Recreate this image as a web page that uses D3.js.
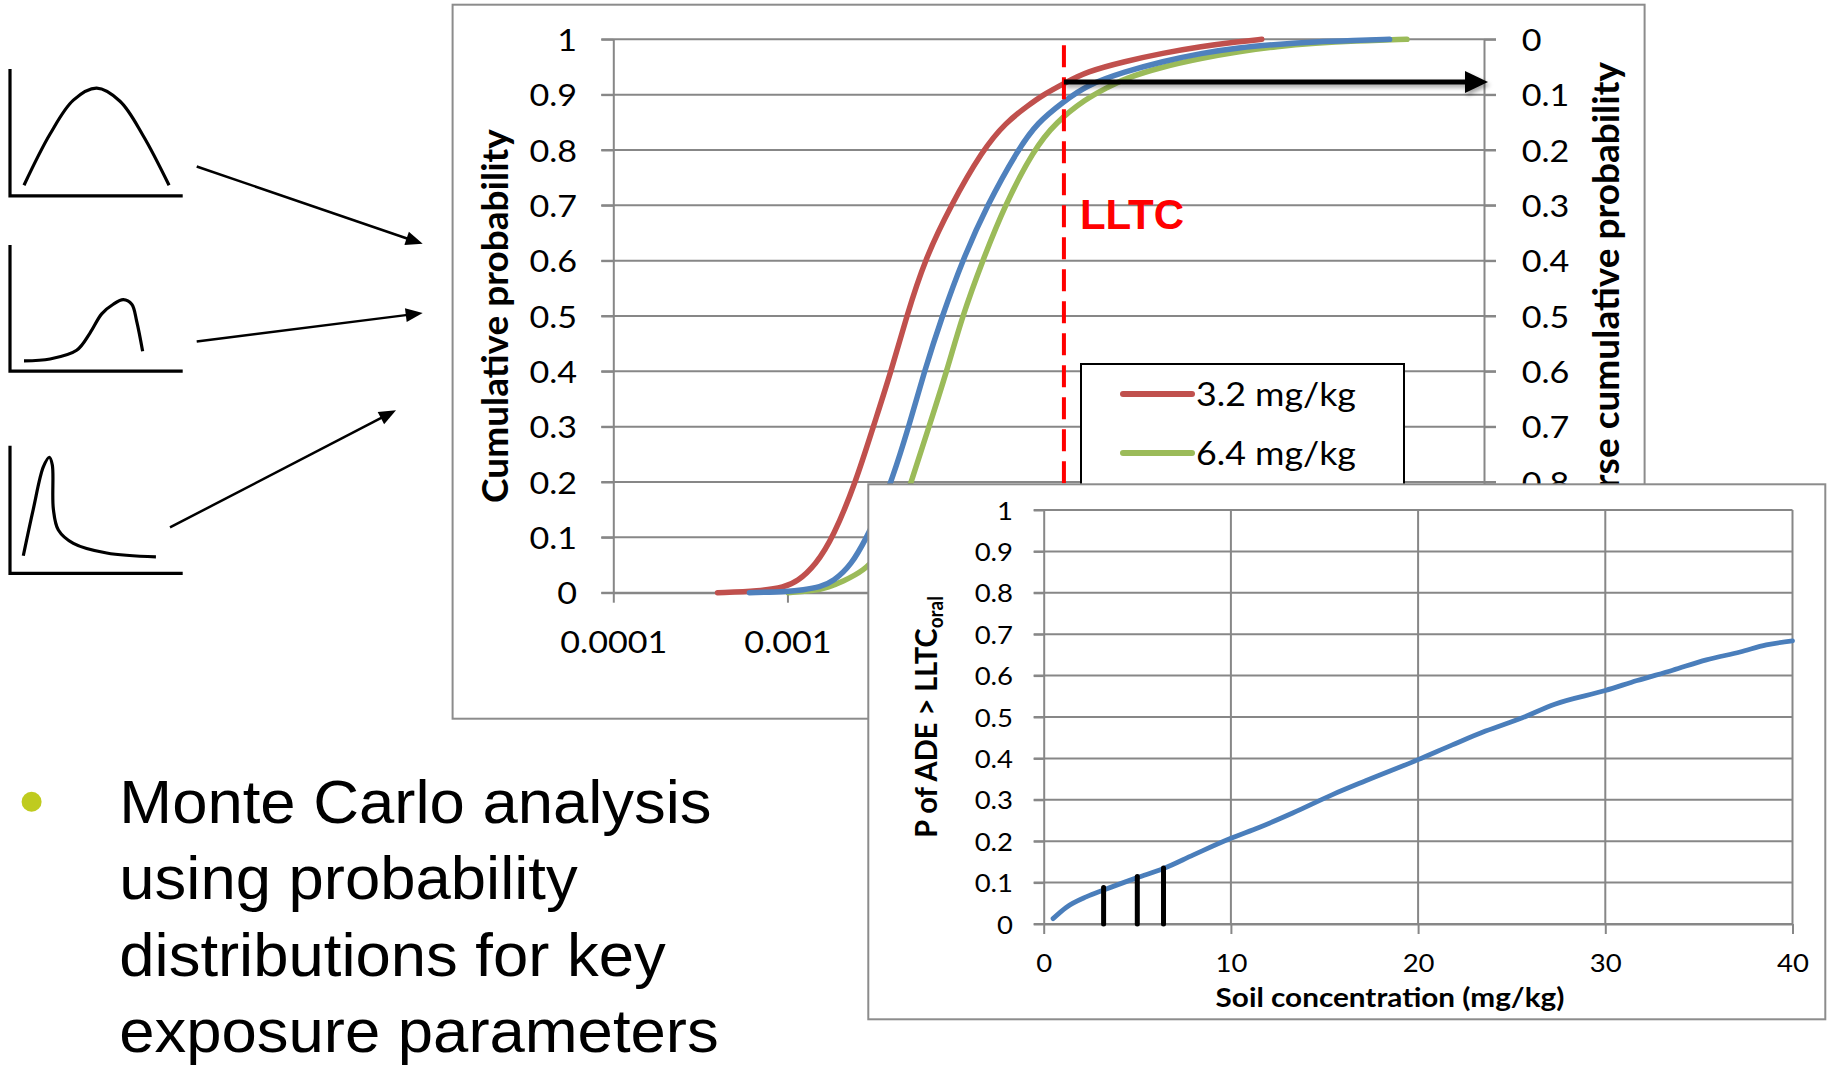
<!DOCTYPE html>
<head>
  <meta charset="utf-8">
  <script src="https://d3js.org/d3.v7.min.js"></script>
  <style>
    body { margin:0; background:#fff; }
    svg { display:block; }
  </style>
</head>
<body>
  <svg width="1829" height="1065"></svg>
  <script>
    // ---- data ----
    // main chart: cumulative distributions of dose (log x)
    var decadeTicks = [0.0001, 0.001, 0.01, 0.1, 1, 10];
    var decadeLabels = ['0.0001', '0.001', '', '', '', ''];   // the rest sit under the inset
    var probTicks = [0, 0.1, 0.2, 0.3, 0.4, 0.5, 0.6, 0.7, 0.8, 0.9, 1];
    var probLabels = ['0', '0.1', '0.2', '0.3', '0.4', '0.5', '0.6', '0.7', '0.8', '0.9', '1'];
    var invLabels = ['0', '0.1', '0.2', '0.3', '0.4', '0.5', '0.6', '0.7', '0.8', '', ''];

    var dose32 = [0.000397, 0.00069, 0.00096, 0.00114, 0.00145, 0.00183, 0.00247, 0.00311, 0.00394, 0.00484, 0.00611, 0.00868, 0.0132, 0.018, 0.024, 0.0295, 0.0387, 0.0521, 0.0866, 0.143, 0.237, 0.392, 0.53];
    var prob32 = [0, 0.003, 0.01, 0.02, 0.05, 0.1, 0.2, 0.3, 0.4, 0.5, 0.6, 0.7, 0.8, 0.85, 0.88, 0.9, 0.92, 0.9415, 0.96, 0.975, 0.987, 0.996, 1];
    var dose50 = [0.000605, 0.00103, 0.00122, 0.00154, 0.00183, 0.00233, 0.00285, 0.00341, 0.00394, 0.00498, 0.00611, 0.00774, 0.0101, 0.014, 0.021, 0.0273, 0.0385, 0.0521, 0.0866, 0.143, 0.237, 0.392, 0.647, 1.08, 1.78, 2.87];
    var prob50 = [0, 0.002, 0.005, 0.01, 0.02, 0.05, 0.1, 0.15, 0.2, 0.3, 0.4, 0.5, 0.6, 0.7, 0.8, 0.85, 0.887, 0.917, 0.9415, 0.96, 0.975, 0.985, 0.991, 0.9957, 0.998, 1];
    var dose64 = [0.00101, 0.00145, 0.00172, 0.00207, 0.00276, 0.00337, 0.00399, 0.00456, 0.00513, 0.0065, 0.00822, 0.0101, 0.0132, 0.0177, 0.0259, 0.0347, 0.0521, 0.067, 0.0866, 0.143, 0.237, 0.392, 0.647, 1.08, 1.78, 3.61];
    var prob64 = [0, 0.004, 0.01, 0.02, 0.04, 0.07, 0.1, 0.15, 0.2, 0.3, 0.4, 0.5, 0.6, 0.7, 0.8, 0.85, 0.893, 0.911, 0.9295, 0.9505, 0.9657, 0.978, 0.987, 0.993, 0.997, 1];

    var legendLabels = ['3.2 mg/kg', '6.4 mg/kg'];
    var lltc = 0.0387;
    var arrowProb = 0.923;

    // inset: probability of exceeding the LLTC vs soil concentration
    var soilTicks = [0, 10, 20, 30, 40];
    var soilConc = [0.5, 1.2, 2.3, 3.2, 5, 6.4, 8, 10, 11.5, 13.3, 15.4, 17.2, 20, 21.8, 23.6, 25.5, 27.3, 30, 31.7, 33.6, 35.4, 37.2, 38.6, 40];
    var pExceed = [0.013, 0.04, 0.066, 0.082, 0.112, 0.134, 0.167, 0.207, 0.233, 0.268, 0.312, 0.346, 0.397, 0.432, 0.466, 0.497, 0.531, 0.564, 0.588, 0.613, 0.638, 0.657, 0.674, 0.684];
    var markConc = [3.2, 5, 6.4];
    var markTop = [0.088, 0.115, 0.135];

    // little distribution sketches (shape in 0..1 units of each box)
    var sketchBell = [[0.081, 0.084], [0.232, 0.487], [0.367, 0.754], [0.502, 0.848], [0.637, 0.745], [0.772, 0.472], [0.921, 0.084]];
    var sketchSkewLeft = [[0.081, 0.082], [0.232, 0.097], [0.386, 0.166], [0.463, 0.302], [0.531, 0.454], [0.598, 0.530], [0.656, 0.566], [0.705, 0.530], [0.734, 0.393], [0.768, 0.158]];
    var sketchSpike = [[0.077, 0.138], [0.135, 0.504], [0.193, 0.834], [0.228, 0.910], [0.245, 0.849], [0.251, 0.504], [0.280, 0.340], [0.367, 0.235], [0.560, 0.159], [0.845, 0.129]];

    var bulletLines = ['Monte Carlo analysis', 'using probability', 'distributions for key', 'exposure parameters'];

    // ---- layout ----
    var SX = 1.1;   // the pasted chart pictures are stretched sideways a little
    var grid = '#878787';
    var chartFont = 'Lato, "Open Sans", sans-serif';
    var main = {left: 613.3, right: 1484, top: 39.3, bottom: 592.7};
    var ins = {left: 1043.7, right: 1792.5, top: 510, bottom: 924};

    var svg = d3.select('svg');
    svg.append('rect').attr('width', 1829).attr('height', 1065).attr('fill', '#fff');

    var defs = svg.append('defs');
    defs.append('filter').attr('id', 'shadow')
      .attr('x', -0.1).attr('y', -1).attr('width', 1.2).attr('height', 3)
      .append('feDropShadow')
      .attr('dx', 2).attr('dy', 3).attr('stdDeviation', 2)
      .attr('flood-color', '#000').attr('flood-opacity', 0.35);

    function stretchText(sel, x, y) {
      sel.attr('x', x / SX).attr('transform', 'scale(' + SX + ',1)');
      if (y !== undefined) sel.attr('y', y);
    }
    function styleAxis(g, size) {
      g.attr('font-family', chartFont).attr('font-size', size);
      g.select('.domain').attr('stroke', grid).attr('stroke-width', 2);
      g.selectAll('.tick line').attr('stroke', grid).attr('stroke-width', 2);
      g.selectAll('.tick text').attr('fill', '#000');
    }
    function zip(a, b) { return a.map((d, i) => [d, b[i]]); }

    // ================= main chart =================
    svg.append('rect')
      .attr('x', 452.6).attr('y', 4.7).attr('width', 1192).attr('height', 714)
      .attr('fill', '#fff').attr('stroke', '#8c8c8c').attr('stroke-width', 2);

    var xMain = d3.scaleLog().domain([1e-4, 10]).range([main.left, main.right]);
    var yMain = d3.scaleLinear().domain([0, 1]).range([main.bottom, main.top]);
    var yInv = d3.scaleLinear().domain([0, 1]).range([main.top, main.bottom]);

    svg.append('g').selectAll('line')
      .data(probTicks)
      .enter().append('line')
      .attr('x1', main.left - 12).attr('x2', main.right + 12)
      .attr('y1', d => yMain(d)).attr('y2', d => yMain(d))
      .attr('stroke', grid).attr('stroke-width', 2);

    var gLeft = svg.append('g')
      .attr('transform', 'translate(' + main.left + ',0)')
      .call(d3.axisLeft(yMain).tickValues(probTicks).tickSize(12).tickSizeOuter(0)
        .tickFormat((d, i) => probLabels[i]));
    styleAxis(gLeft, 31);
    gLeft.selectAll('.tick text').attr('dy', '0.36em').call(stretchText, -36.3);

    var gRight = svg.append('g')
      .attr('transform', 'translate(' + main.right + ',0)')
      .call(d3.axisRight(yInv).tickValues(probTicks).tickSize(12).tickSizeOuter(0)
        .tickFormat((d, i) => invLabels[i]));
    styleAxis(gRight, 31);
    gRight.selectAll('.tick text').attr('dy', '0.36em').call(stretchText, 37.7);

    var gBottom = svg.append('g')
      .attr('transform', 'translate(0,' + main.bottom + ')')
      .call(d3.axisBottom(xMain).tickValues(decadeTicks).tickSize(10).tickSizeOuter(0)
        .tickFormat((d, i) => decadeLabels[i]));
    styleAxis(gBottom, 31);
    gBottom.selectAll('.tick text').attr('dy', 0).call(stretchText, 0, 60);

    var cdfLine = d3.line()
      .x(d => xMain(d[0]))
      .y(d => yMain(d[1]))
      .curve(d3.curveBasis);

    var cdfs = [
      {pts: zip(dose64, prob64), color: '#9BBB59'},
      {pts: zip(dose32, prob32), color: '#C0504D'},
      {pts: zip(dose50, prob50), color: '#4F81BD'}
    ];
    svg.append('g').selectAll('path')
      .data(cdfs)
      .enter().append('path')
      .attr('d', d => cdfLine(d.pts))
      .attr('fill', 'none')
      .attr('stroke', d => d.color)
      .attr('stroke-width', 5.5)
      .attr('stroke-linecap', 'round')
      .attr('stroke-linejoin', 'round');

    // LLTC marker
    svg.append('line')
      .attr('x1', xMain(lltc)).attr('x2', xMain(lltc))
      .attr('y1', main.top + 6).attr('y2', main.bottom)
      .attr('stroke', '#ff0000').attr('stroke-width', 4)
      .attr('stroke-dasharray', '22,10');
    svg.append('text')
      .attr('x', xMain(lltc) + 16).attr('y', 229)
      .attr('font-family', '"Liberation Sans", Arial, sans-serif')
      .attr('font-weight', 'bold').attr('font-size', 42)
      .attr('fill', '#ff0000')
      .text('LLTC');

    // arrow from the LLTC to the inverse axis
    var arrowY = yMain(arrowProb);
    var arrowTip = main.right + 4;
    var arrowG = svg.append('g').attr('filter', 'url(#shadow)');
    arrowG.append('line')
      .attr('x1', xMain(lltc)).attr('x2', arrowTip - 20)
      .attr('y1', arrowY).attr('y2', arrowY)
      .attr('stroke', '#000').attr('stroke-width', 5);
    arrowG.append('path')
      .attr('d', 'M' + (arrowTip - 23) + ',' + (arrowY - 11) + 'L' + arrowTip + ',' + arrowY + 'L' + (arrowTip - 23) + ',' + (arrowY + 11) + 'Z')
      .attr('fill', '#000');

    // legend
    var legend = svg.append('g');
    legend.append('rect')
      .attr('x', 1081).attr('y', 364).attr('width', 323).attr('height', 200)
      .attr('fill', '#fff').attr('stroke', '#000').attr('stroke-width', 2);
    var legendColors = ['#C0504D', '#9BBB59'];
    var entry = legend.selectAll('g.entry')
      .data(legendLabels)
      .enter().append('g')
      .attr('class', 'entry')
      .attr('transform', (d, i) => 'translate(0,' + (394 + i * 59) + ')');
    entry.append('line')
      .attr('x1', 1123).attr('x2', 1192)
      .attr('stroke', (d, i) => legendColors[i])
      .attr('stroke-width', 6).attr('stroke-linecap', 'round');
    entry.append('text')
      .attr('font-family', chartFont).attr('font-size', 32.5)
      .attr('dy', '0.36em')
      .call(stretchText, 1196)
      .text(d => d);

    // axis titles
    svg.append('text')
      .attr('transform', 'translate(508,316) rotate(-90)')
      .attr('text-anchor', 'middle')
      .attr('font-family', chartFont).attr('font-weight', 'bold').attr('font-size', 37)
      .text('Cumulative probability');
    svg.append('text')
      .attr('transform', 'translate(1619,310) rotate(-90)')
      .attr('text-anchor', 'middle')
      .attr('font-family', chartFont).attr('font-weight', 'bold').attr('font-size', 37)
      .text('Inverse cumulative probability');

    // ================= inset chart =================
    svg.append('rect')
      .attr('x', 868.3).attr('y', 484.3).attr('width', 957).attr('height', 535)
      .attr('fill', '#fff').attr('stroke', '#8c8c8c').attr('stroke-width', 2);

    var xIns = d3.scaleLinear().domain([0, 40]).range([ins.left, ins.right]);
    var yIns = d3.scaleLinear().domain([0, 1]).range([ins.bottom, ins.top]);

    var gGrid = svg.append('g');
    gGrid.selectAll('line.h')
      .data(probTicks)
      .enter().append('line')
      .attr('class', 'h')
      .attr('x1', ins.left - 10).attr('x2', ins.right)
      .attr('y1', d => yIns(d)).attr('y2', d => yIns(d))
      .attr('stroke', grid).attr('stroke-width', 2);
    gGrid.selectAll('line.v')
      .data(soilTicks.slice(1))
      .enter().append('line')
      .attr('class', 'v')
      .attr('x1', d => xIns(d)).attr('x2', d => xIns(d))
      .attr('y1', ins.top).attr('y2', ins.bottom)
      .attr('stroke', grid).attr('stroke-width', 2);

    var gInsLeft = svg.append('g')
      .attr('transform', 'translate(' + ins.left + ',0)')
      .call(d3.axisLeft(yIns).tickValues(probTicks).tickSize(10).tickSizeOuter(0)
        .tickFormat((d, i) => probLabels[i]));
    styleAxis(gInsLeft, 25);
    gInsLeft.selectAll('.tick text').attr('dy', '0.36em').call(stretchText, -30.7);

    var gInsBottom = svg.append('g')
      .attr('transform', 'translate(0,' + ins.bottom + ')')
      .call(d3.axisBottom(xIns).tickValues(soilTicks).tickSize(10).tickSizeOuter(0));
    styleAxis(gInsBottom, 25);
    gInsBottom.selectAll('.tick text').attr('dy', 0).call(stretchText, 0, 48.4);

    svg.append('path')
      .attr('d', d3.line().x(d => xIns(d[0])).y(d => yIns(d[1])).curve(d3.curveMonotoneX)(zip(soilConc, pExceed)))
      .attr('fill', 'none')
      .attr('stroke', '#4A7EBB')
      .attr('stroke-width', 4.8)
      .attr('stroke-linecap', 'round');

    svg.append('g').selectAll('line')
      .data(markConc)
      .enter().append('line')
      .attr('x1', d => xIns(d)).attr('x2', d => xIns(d))
      .attr('y1', yIns(0)).attr('y2', (d, i) => yIns(markTop[i]))
      .attr('stroke', '#000').attr('stroke-width', 5)
      .attr('stroke-linecap', 'round');

    svg.append('text')
      .attr('transform', 'translate(1390,1007) scale(' + SX + ',1)')
      .attr('text-anchor', 'middle')
      .attr('font-family', chartFont).attr('font-weight', 'bold').attr('font-size', 27)
      .text('Soil concentration (mg/kg)');

    var yTitle = svg.append('text')
      .attr('transform', 'translate(937,717) scale(1.05,1) rotate(-90)')
      .attr('text-anchor', 'middle')
      .attr('font-family', chartFont).attr('font-weight', 'bold').attr('font-size', 29);
    yTitle.append('tspan').text('P of ADE > LLTC');
    yTitle.append('tspan').attr('font-size', 19).attr('dy', 6).text('oral');

    // ================= distribution sketches =================
    var sketchBoxes = [
      {shape: sketchBell, top: 68.9, bottom: 195.9},
      {shape: sketchSkewLeft, top: 244.9, bottom: 371.2},
      {shape: sketchSpike, top: 445.8, bottom: 573.3}
    ];
    sketchBoxes.forEach(b => {
      var sx = d3.scaleLinear().domain([0, 1]).range([10, 182.7]);
      var sy = d3.scaleLinear().domain([0, 1]).range([b.bottom, b.top]);
      var g = svg.append('g');
      g.append('path')
        .attr('d', 'M' + sx(0) + ',' + sy(1) + 'V' + sy(0) + 'H' + sx(1))
        .attr('fill', 'none').attr('stroke', '#000').attr('stroke-width', 3.2);
      g.append('path')
        .attr('d', d3.line().x(d => sx(d[0])).y(d => sy(d[1])).curve(d3.curveCatmullRom)(b.shape))
        .attr('fill', 'none').attr('stroke', '#000').attr('stroke-width', 3.2);
    });

    var sketchArrows = [
      [[196.7, 166.5], [422.7, 243.8]],
      [[196.7, 341.4], [422.7, 313]],
      [[170, 527.4], [396, 410.3]]
    ];
    sketchArrows.forEach(a => {
      var dx = a[1][0] - a[0][0], dy = a[1][1] - a[0][1];
      var len = Math.sqrt(dx * dx + dy * dy), ux = dx / len, uy = dy / len;
      var head = 17, half = 7;
      var bx = a[1][0] - ux * head, by = a[1][1] - uy * head;
      svg.append('line')
        .attr('x1', a[0][0]).attr('y1', a[0][1])
        .attr('x2', bx + ux * 2).attr('y2', by + uy * 2)
        .attr('stroke', '#000').attr('stroke-width', 2.5);
      svg.append('path')
        .attr('d', 'M' + a[1][0] + ',' + a[1][1] +
          'L' + (bx - uy * half) + ',' + (by + ux * half) +
          'L' + (bx + uy * half) + ',' + (by - ux * half) + 'Z')
        .attr('fill', '#000');
    });

    // ================= bullet text =================
    svg.append('circle')
      .attr('cx', 31.6).attr('cy', 801.7).attr('r', 10)
      .attr('fill', '#bfcb1f');
    svg.append('g').selectAll('text')
      .data(bulletLines)
      .enter().append('text')
      .attr('transform', (d, i) => 'translate(119.3,' + (823.3 + i * 76.1) + ') scale(1.04,1)')
      .attr('font-family', '"Liberation Sans", Arial, sans-serif')
      .attr('font-size', 61)
      .attr('fill', '#000')
      .text(d => d);
  </script>
</body>
